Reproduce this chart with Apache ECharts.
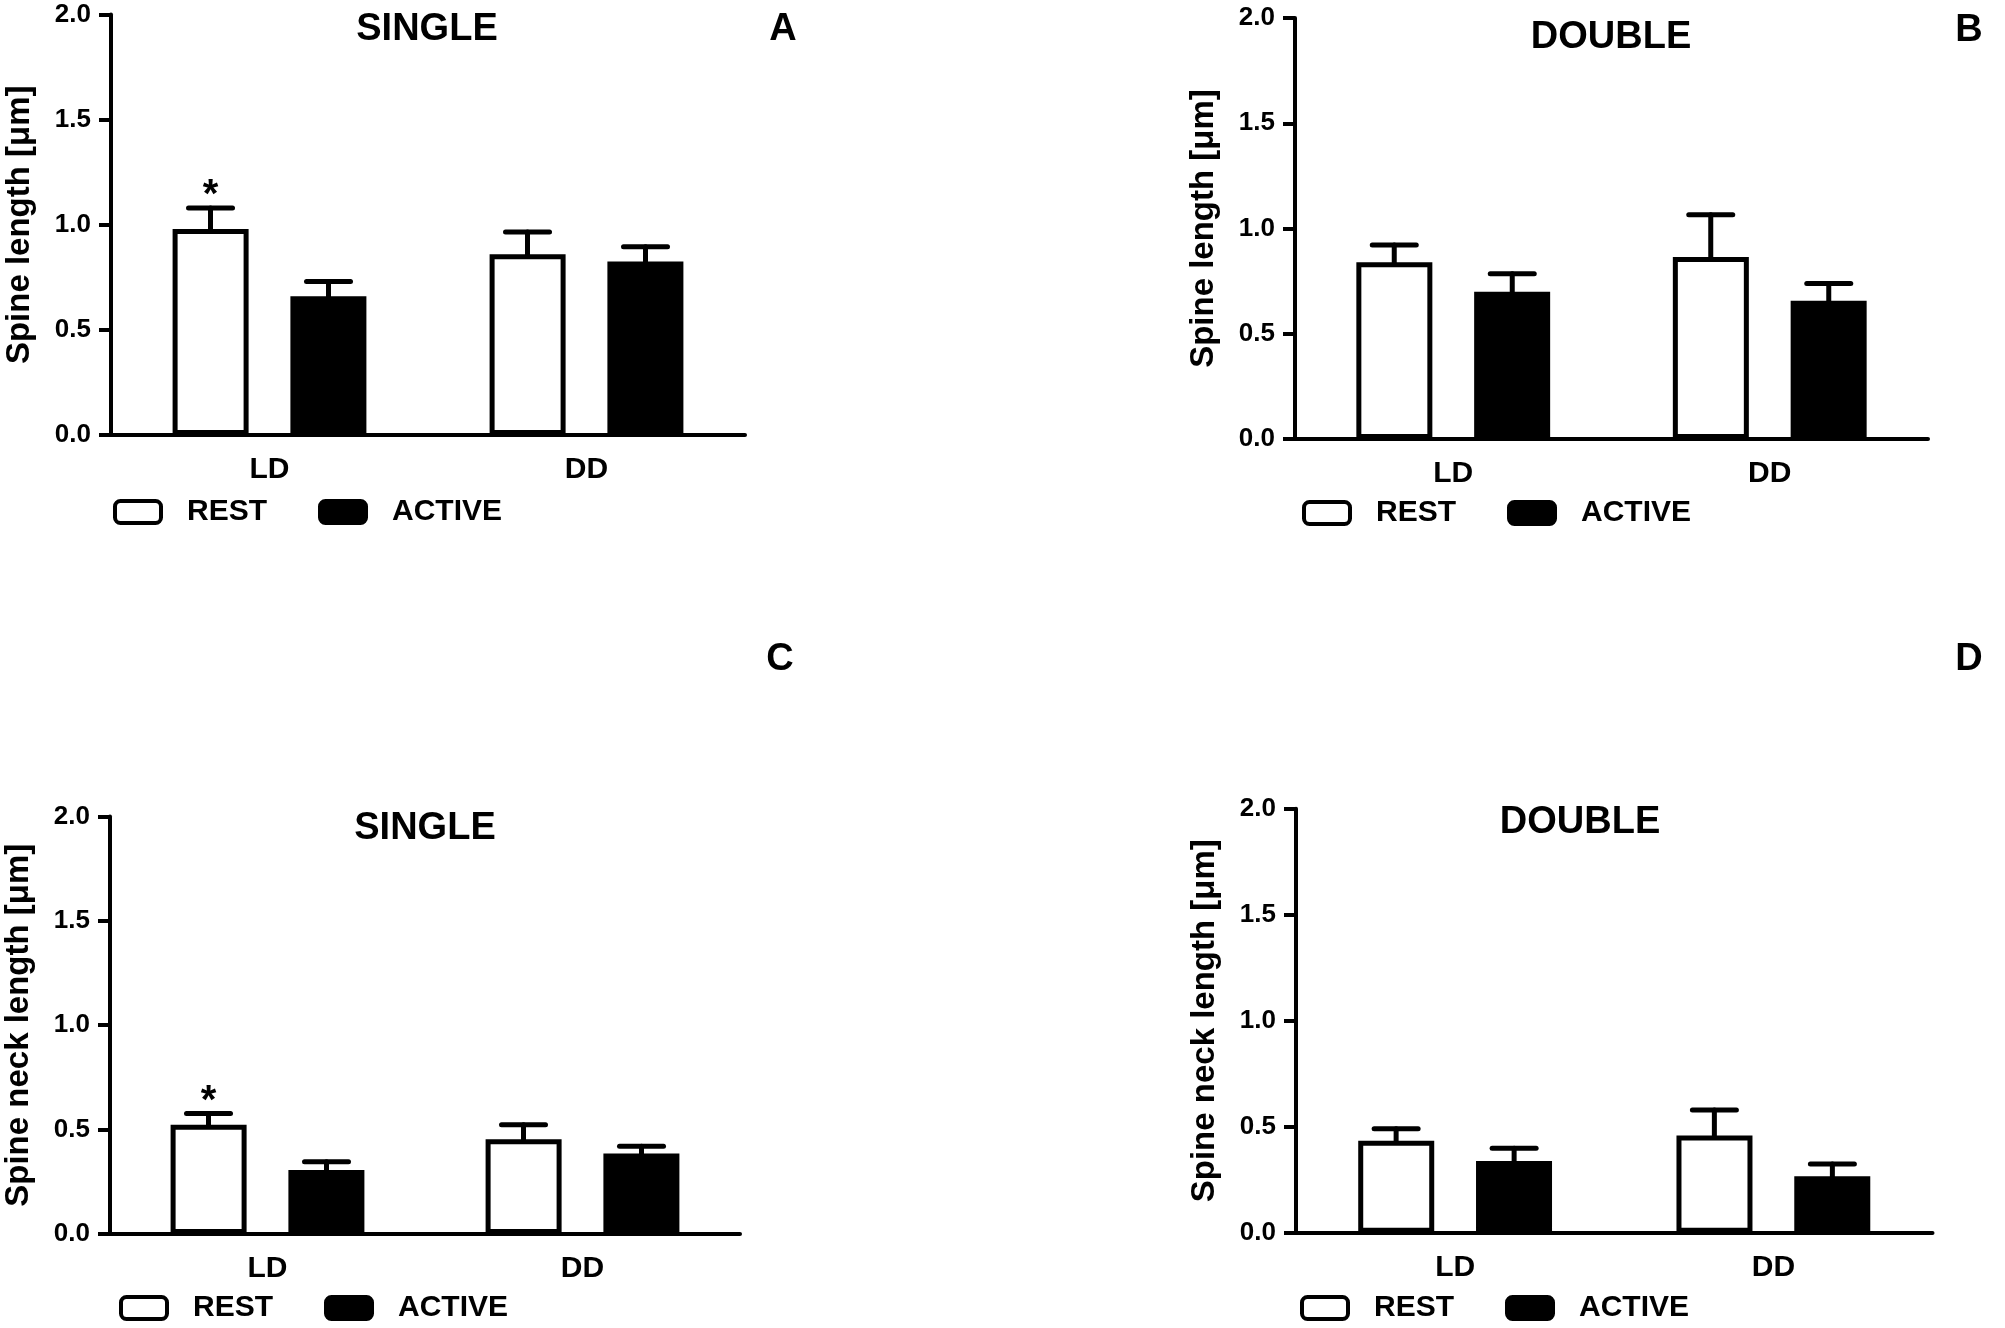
<!DOCTYPE html>
<html>
<head>
<meta charset="utf-8">
<script src="https://cdn.jsdelivr.net/npm/echarts@6/dist/echarts.min.js"></script>
<style>
html,body{margin:0;padding:0;background:#fff;}
#chart{width:2005px;height:1328px;}
</style>
</head>
<body>
<div id="chart"></div>
<script>
// ---------- data ----------
const categories = ['LD', 'DD'];
const seriesNames = ['REST', 'ACTIVE'];
const yTickLabels = ['0.0', '0.5', '1.0', '1.5', '2.0'];

const panelLetters = ['A', 'B', 'C', 'D'];
const panelTitles = ['SINGLE', 'DOUBLE', 'SINGLE', 'DOUBLE'];
const yAxisNames = ['Spine length [\u03bcm]', 'Spine length [\u03bcm]', 'Spine neck length [\u03bcm]', 'Spine neck length [\u03bcm]'];

// Panel A: spine length, single
const restA = [0.98, 0.86];
const restSemA = [0.10, 0.105];
const activeA = [0.66, 0.825];
const activeSemA = [0.07, 0.07];
// Panel B: spine length, double
const restB = [0.84, 0.865];
const restSemB = [0.082, 0.20];
const activeB = [0.70, 0.657];
const activeSemB = [0.085, 0.082];
// Panel C: spine neck length, single
const restC = [0.523, 0.454];
const restSemC = [0.054, 0.069];
const activeC = [0.307, 0.385];
const activeSemC = [0.039, 0.035];
// Panel D: spine neck length, double
const restD = [0.434, 0.458];
const restSemD = [0.056, 0.121];
const activeD = [0.338, 0.266];
const activeSemD = [0.060, 0.058];

// significance markers (REST vs ACTIVE), per category
const sigA = [1, 0];
const sigB = [0, 0];
const sigC = [1, 0];
const sigD = [0, 0];

// ---------- layout / style ----------
const FONT = '"Liberation Sans", Arial, Helvetica, sans-serif';
const grids = [
  {left: 111, top: 14.5, width: 634, height: 420.5},
  {left: 1295, top: 18, width: 633, height: 421},
  {left: 110, top: 816.4, width: 630, height: 417.6},
  {left: 1296, top: 808.7, width: 636.5, height: 424}
];
const titlePos = [[427, 30], [1611, 38], [425, 829], [1580, 823]];
const letterPos = [[783, 30], [1969, 31], [780, 660], [1969, 660]];
const legendPos = [[113, 497], [1302, 498], [119, 1293], [1300, 1293]];

const BAR_W = 76;
const BAR_GAP_PX = 42;
const OFFSET = (BAR_W + BAR_GAP_PX) / 2;
const CAP_HALF = 22;
const LW = 5;

const panels = [
  {rest: restA, restSem: restSemA, active: activeA, activeSem: activeSemA, sig: sigA},
  {rest: restB, restSem: restSemB, active: activeB, activeSem: activeSemB, sig: sigB},
  {rest: restC, restSem: restSemC, active: activeC, activeSem: activeSemC, sig: sigC},
  {rest: restD, restSem: restSemD, active: activeD, activeSem: activeSemD, sig: sigD}
];

function renderErr(params, api) {
  const x = api.value(0), m = api.value(1), u = api.value(2), side = api.value(3), sig = api.value(4);
  const base = api.coord([x, m]);
  const top = api.coord([x, u]);
  const cx = base[0] + side * OFFSET;
  const st = {stroke: '#000', lineWidth: LW, lineCap: 'round'};
  const children = [
    {type: 'line', shape: {x1: cx, y1: base[1], x2: cx, y2: top[1]}, style: st},
    {type: 'line', shape: {x1: cx - CAP_HALF, y1: top[1], x2: cx + CAP_HALF, y2: top[1]}, style: st}
  ];
  if (sig) {
    children.push({type: 'text', x: cx, y: top[1] - 12,
      style: {text: '*', font: 'bold 40px ' + FONT, fill: '#000', align: 'center', verticalAlign: 'middle'}});
  }
  return {type: 'group', children: children};
}

const option = {
  backgroundColor: '#fff',
  animation: false,
  grid: grids.map(g => Object.assign({containLabel: false}, g)),
  xAxis: grids.map((g, i) => ({
    type: 'category', gridIndex: i, data: categories,
    axisLine: {lineStyle: {color: '#000', width: 4}},
    axisTick: {alignWithLabel: true, length: 12, lineStyle: {color: '#000', width: 4}},
    axisLabel: {color: '#000', fontSize: 30, fontWeight: 'bold', fontFamily: FONT, margin: 20},
    splitLine: {show: false}
  })),
  yAxis: grids.map((g, i) => ({
    type: 'value', gridIndex: i, min: 0, max: 2, interval: 0.5,
    name: yAxisNames[i], nameLocation: 'middle', nameGap: 75,
    nameTextStyle: {color: '#000', fontSize: 33, fontWeight: 'bold', fontFamily: FONT},
    axisLine: {show: true, lineStyle: {color: '#000', width: 4}},
    axisTick: {show: true, length: 12, lineStyle: {color: '#000', width: 4}},
    axisLabel: {color: '#000', fontSize: 26, fontWeight: 'bold', fontFamily: FONT, margin: 20,
      formatter: v => yTickLabels[Math.round(v / 0.5)]},
    splitLine: {show: false}
  })),
  legend: legendPos.map(p => ({
    left: p[0], top: p[1], padding: 0, orient: 'horizontal',
    selectedMode: false,
    itemWidth: 46, itemHeight: 22, itemGap: 51, icon: 'roundRect',
    itemStyle: {borderColor: '#000', borderWidth: 4},
    textStyle: {color: '#000', fontSize: 30, fontWeight: 'bold', fontFamily: FONT, padding: [0, 0, 0, 21]},
    data: [
      {name: seriesNames[0], itemStyle: {color: '#fff', borderColor: '#000', borderWidth: 4}},
      {name: seriesNames[1], itemStyle: {color: '#000', borderColor: '#000', borderWidth: 4}}
    ]
  })),
  graphic: [].concat(
    titlePos.map((p, i) => ({type: 'text', x: p[0], y: p[1], z: 10,
      style: {text: panelTitles[i], font: 'bold 38px ' + FONT, fill: '#000', align: 'center', verticalAlign: 'middle'}})),
    letterPos.map((p, i) => ({type: 'text', x: p[0], y: p[1], z: 10,
      style: {text: panelLetters[i], font: 'bold 38px ' + FONT, fill: '#000', align: 'center', verticalAlign: 'middle'}}))
  ),
  series: []
};

panels.forEach((p, i) => {
  option.series.push({
    name: seriesNames[0], type: 'bar', xAxisIndex: i, yAxisIndex: i,
    data: p.rest, barWidth: BAR_W, barGap: Math.round(BAR_GAP_PX / BAR_W * 100) + '%',
    itemStyle: {color: '#fff', borderColor: '#000', borderWidth: LW}, z: 2
  });
  option.series.push({
    name: seriesNames[1], type: 'bar', xAxisIndex: i, yAxisIndex: i,
    data: p.active, barWidth: BAR_W,
    itemStyle: {color: '#000', borderColor: '#000', borderWidth: LW}, z: 2
  });
  const errData = [];
  categories.forEach((c, k) => {
    errData.push([k, p.rest[k], p.rest[k] + p.restSem[k], -1, p.sig[k]]);
    errData.push([k, p.active[k], p.active[k] + p.activeSem[k], 1, 0]);
  });
  option.series.push({
    type: 'custom', xAxisIndex: i, yAxisIndex: i, z: 3,
    renderItem: renderErr, data: errData,
    encode: {x: 0, y: [1, 2]}, silent: true
  });
});

const chart = echarts.init(document.getElementById('chart'), null, {renderer: 'canvas'});
chart.setOption(option);
</script>
</body>
</html>
